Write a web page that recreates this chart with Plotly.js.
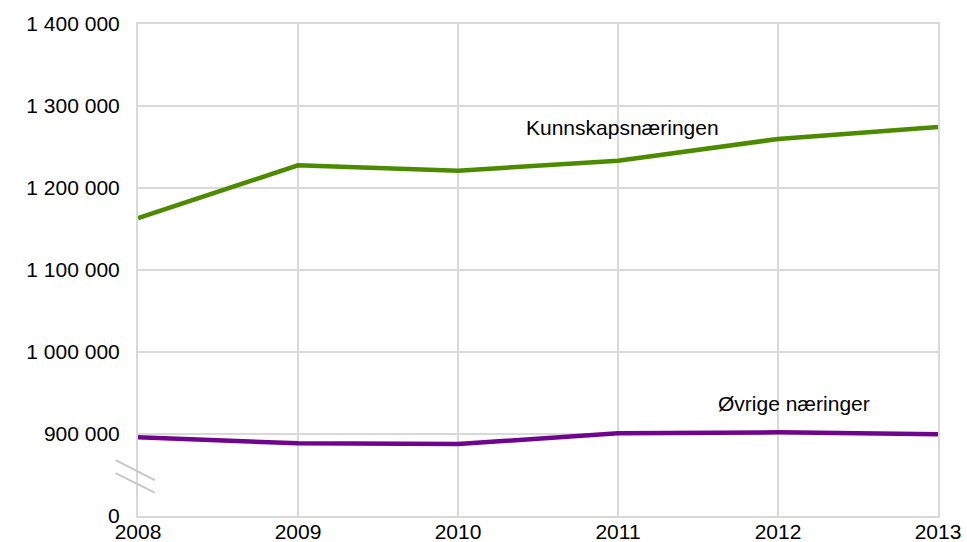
<!DOCTYPE html>
<html>
<head>
<meta charset="utf-8">
<script src="https://cdn.plot.ly/plotly-3.0.1.min.js"></script>
<style>html,body{margin:0;padding:0;background:#fff;}#chart{width:967px;height:542px;}</style>
</head>
<body>
<div id="chart"></div>
<script>
const years = [2008, 2009, 2010, 2011, 2012, 2013];
const kunnskap = [1163400, 1227600, 1221100, 1233300, 1259800, 1274500];
const ovrige = [896000, 888600, 887800, 900800, 902000, 899600];
const yTickVals = [800000, 900000, 1000000, 1100000, 1200000, 1300000, 1400000];
const yTickText = ["0", "900 000", "1 000 000", "1 100 000", "1 200 000", "1 300 000", "1 400 000"];
const seriesNames = ["Kunnskapsnæringen", "Øvrige næringer"];

const grid = '#d9d9d9';
const font = {family: 'Liberation Sans, Arial, sans-serif', size: 21, color: '#000'};

const traces = [
  {x: years, y: kunnskap, name: seriesNames[0], mode: 'lines', line: {color: '#4C8A00', width: 4.5}},
  {x: years, y: ovrige, name: seriesNames[1], mode: 'lines', line: {color: '#6F058C', width: 4.5}}
];

const layout = {
  width: 967, height: 542,
  margin: {l: 138, r: 29, t: 24, b: 26},
  paper_bgcolor: '#fff', plot_bgcolor: '#fff',
  showlegend: false,
  font: font,
  xaxis: {
    range: [2008, 2013], tickvals: years, ticktext: years.map(String),
    showgrid: true, gridcolor: grid, gridwidth: 2,
    showline: true, linecolor: grid, linewidth: 2, mirror: true,
    zeroline: false, ticks: '', ticklabelstandoff: -4, tickfont: font
  },
  yaxis: {
    range: [800000, 1400000], tickvals: yTickVals, ticktext: yTickText,
    showgrid: true, gridcolor: grid, gridwidth: 2,
    showline: true, linecolor: grid, linewidth: 2, mirror: true,
    zeroline: false, ticks: '', ticklabelstandoff: 12, tickfont: font
  },
  annotations: [
    {x: 2011.03, y: 1273600, xref: 'x', yref: 'y', text: seriesNames[0], showarrow: false, xanchor: 'center', yanchor: 'middle', font: font},
    {x: 2012.10, y: 936600, xref: 'x', yref: 'y', text: seriesNames[1], showarrow: false, xanchor: 'center', yanchor: 'middle', font: font}
  ],
  shapes: [
    {type: 'line', xref: 'paper', yref: 'paper', x0: -0.0281, x1: 0.0210, y0: 0.1136, y1: 0.0729, line: {color: '#c8c8c8', width: 2}},
    {type: 'line', xref: 'paper', yref: 'paper', x0: -0.0281, x1: 0.0210, y0: 0.0872, y1: 0.0475, line: {color: '#c8c8c8', width: 2}}
  ]
};

Plotly.newPlot('chart', traces, layout, {displayModeBar: false, staticPlot: true});
</script>
</body>
</html>
